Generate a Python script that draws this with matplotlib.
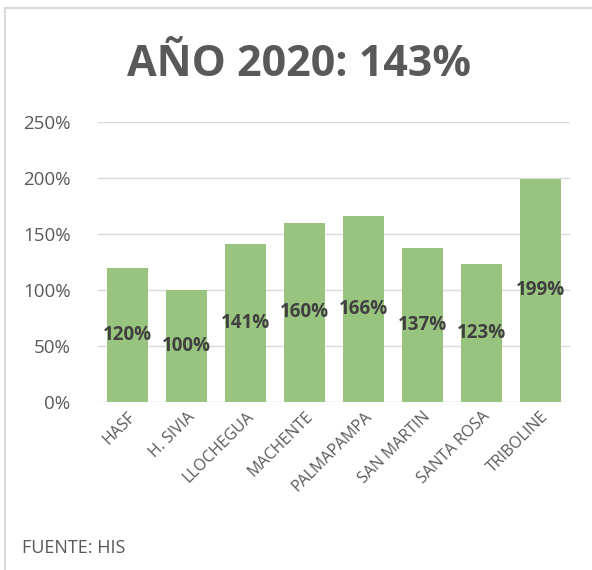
import numpy as np
import matplotlib.pyplot as plt
from matplotlib.patches import Rectangle
from matplotlib.ticker import PercentFormatter

plt.rcParams['font.family'] = ['Open Sans', 'DejaVu Sans']

# Datos
centros = ['HASF', 'H. SIVIA', 'LLOCHEGUA', 'MACHENTE', 'PALMAPAMPA',
           'SAN MARTIN', 'SANTA ROSA', 'TRIBOLINE']
valores = [120, 100, 141, 160, 166, 137, 123, 199]
titulo = 'AÑO 2020: 143%'
fuente = 'FUENTE: HIS'

gris = '#595959'
verde = '#99C47F'

fig = plt.figure(figsize=(5.92, 5.70), dpi=100)
ax = fig.add_axes([0.166, 0.295, 0.797, 0.491])

# Marco del gráfico
fig.patches.append(Rectangle((5 / 592, -0.1), 1.2, 1.1 - 8 / 570,
                             transform=fig.transFigure, fill=False,
                             edgecolor='#D9D9D9', linewidth=1.5))

x = np.arange(len(centros))
barras = ax.bar(x, valores, width=0.69, color=verde, zorder=2)

for b, v in zip(barras, valores):
    ax.text(b.get_x() + b.get_width() / 2, v / 2, f'{v}%',
            ha='center', va='center', fontsize=13.5, fontweight='bold',
            color='#404040', zorder=3)

ax.set_ylim(0, 250)
ax.set_xlim(-0.5, len(centros) - 0.5)
ax.set_yticks(np.arange(0, 251, 50))
ax.yaxis.set_major_formatter(PercentFormatter(decimals=0))
ax.grid(axis='y', color='#D9D9D9', linewidth=1, zorder=0)
ax.set_axisbelow(True)
for s in ax.spines.values():
    s.set_visible(False)

ax.set_xticks(x)
ax.set_xticklabels(centros, rotation=45, ha='right', rotation_mode='anchor',
                   fontsize=11.5, color=gris)
ax.tick_params(axis='y', length=0, pad=20, labelsize=13.5, labelcolor=gris)
ax.tick_params(axis='x', length=0, pad=5)

fig.text(0.505, 0.887, titulo, ha='center', va='center', fontsize=31,
         fontweight='bold', color=gris)
fig.text(22 / 592, 1 - 548 / 570, fuente, ha='left', va='center',
         fontsize=13, color=gris)

plt.savefig('out.png', dpi=100)
